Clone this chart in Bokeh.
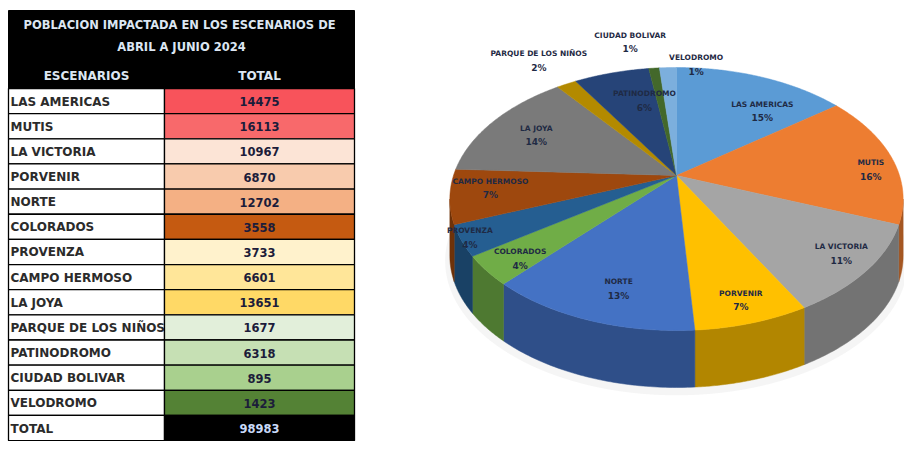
import numpy as np
from bokeh.plotting import figure
from bokeh.models import Range1d, ColumnDataSource
from bokeh.core.properties import value
from bokeh.embed import file_html
from bokeh.resources import INLINE

# ---------------- data ----------------
title_lines = ["POBLACION IMPACTADA  EN LOS ESCENARIOS DE", "ABRIL A JUNIO 2024"]
header = ["ESCENARIOS", "TOTAL"]
escenarios = ["LAS AMERICAS", "MUTIS", "LA VICTORIA", "PORVENIR", "NORTE", "COLORADOS",
              "PROVENZA", "CAMPO HERMOSO", "LA JOYA", "PARQUE DE LOS NIÑOS",
              "PATINODROMO", "CIUDAD BOLIVAR", "VELODROMO"]
totales = [14475, 16113, 10967, 6870, 12702, 3558, 3733, 6601, 13651, 1677, 6318, 895, 1423]
total_label = "TOTAL"

# ---------------- styles / layout ----------------
cell_colors = ["#f8535b", "#f8696b", "#fce4d6", "#f8cbad", "#f4b084", "#c55a11",
               "#fff2cc", "#ffe699", "#ffd966", "#e2efda", "#c6e0b4", "#a9d08e", "#548235"]
slice_colors = ["#5b9bd5", "#ed7d31", "#a5a5a5", "#ffc000", "#4472c4", "#70ad47",
                "#255e91", "#9e480e", "#7a7a7a", "#b38a00", "#264478", "#43682b", "#7cafdd"]
label_r = [0.62, 0.90, 0.88, 0.87, 0.80, 0.84, 0.93, 0.86, 0.72, 1.30, 0.74, 1.32, 1.12]
label_dx = [30, 0, 0, 0, 10, 0, -8, 8, -6, 0, 18, -18, 29]
label_dy = [0, 10, -4, 0, 2, 5, 2, -5, 0, 0, 4, 2, 8]

FONT = value("DejaVu Sans")

p = figure(width=904, height=441, output_backend="svg", toolbar_location=None,
           x_range=Range1d(0, 904), y_range=Range1d(441, 0), min_border=0)
p.axis.visible = False
p.grid.visible = False
p.outline_line_color = None
p.background_fill_color = "white"

# ---------------- table ----------------
X0, XM, X1 = 8, 164, 354
HEAD_TOP, ROW0, RH = 10, 88, 25.15

p.quad(left=[X0], right=[X1], top=[HEAD_TOP], bottom=[ROW0], fill_color="black", line_color="black")
p.text(x=[(X0 + X1) / 2] * 2, y=[24, 46], text=title_lines, text_font=FONT,
       text_font_style="bold", text_font_size="11.5px", text_color="#dce6f2",
       text_align="center", text_baseline="middle")
p.text(x=[(X0 + XM) / 2, (XM + X1) / 2], y=[75, 75], text=header, text_font=FONT,
       text_font_style="bold", text_font_size="12px", text_color="#dce6f2",
       text_align="center", text_baseline="middle")

n = len(escenarios)
grand_total = sum(totales)
row_names = escenarios + [total_label]
row_vals = [str(v) for v in totales] + [str(grand_total)]
row_fill = cell_colors + ["black"]
row_txt = ["#1c1c3a"] * n + ["#c9daf8"]
tops = [ROW0 + i * RH for i in range(n + 1)]
bots = [t + RH for t in tops]
mids = [t + RH / 2 + 0.5 for t in tops]

src = ColumnDataSource(dict(top=tops, bottom=bots, mid=mids, name=row_names,
                            val=row_vals, fill=row_fill, tc=row_txt))
p.quad(left=X0, right=XM, top="top", bottom="bottom", source=src,
       fill_color="white", line_color="black", line_width=1.3)
p.text(x=X0 + 2, y="mid", text="name", source=src, text_font=FONT, text_font_style="bold",
       text_font_size="12px", text_color="#2b2b2b", text_align="left", text_baseline="middle")
p.quad(left=XM, right=X1, top="top", bottom="bottom", source=src,
       fill_color="fill", line_color="black", line_width=1.3)
p.text(x=(XM + X1) / 2, y="mid", text="val", source=src, text_font=FONT, text_font_style="bold",
       text_font_size="11.5px", text_color="tc", text_align="center", text_baseline="middle")

# ---------------- 3D pie ----------------
PCX, PCY, PA, PB, PK, DEPTH = 676, 175, 223, 127.3, -0.1787, 57


def proj(phi_deg, r=1.0):
    ph = np.radians(phi_deg)
    u = r * np.sin(ph)
    v = -r * np.cos(ph)
    d = 1 + PK * v
    return PCX + PA * u / d, PCY + PB * v / d


def darker(hexc, f):
    h = hexc.lstrip("#")
    r, g, b = (int(h[i:i + 2], 16) for i in (0, 2, 4))
    return "#%02x%02x%02x" % (int(r * f), int(g * f), int(b * f))


vals = np.array(totales, dtype=float)
frac = vals / vals.sum()
ends = np.cumsum(frac) * 360.0
starts = np.concatenate([[0.0], ends[:-1]])

samp = np.linspace(0, 360, 3601)
sx, _ = proj(samp)
phi_r = samp[np.argmax(sx)]
phi_l = samp[np.argmin(sx)]

# soft shadow
shx, shy = proj(samp, 1.02)
p.patch(x=shx, y=shy + DEPTH + 4, fill_color="#e3e3e3", fill_alpha=0.35, line_color=None)

# sides
side_xs, side_ys, side_cols = [], [], []
for a, b, c in zip(starts, ends, slice_colors):
    lo, hi = max(a, phi_r), min(b, phi_l)
    if hi <= lo:
        continue
    ph = np.linspace(lo, hi, 60)
    ex, ey = proj(ph)
    side_xs.append(list(ex) + list(ex[::-1]))
    side_ys.append(list(ey) + list((ey + DEPTH)[::-1]))
    side_cols.append(darker(c, 0.7))
p.patches(xs=side_xs, ys=side_ys, fill_color=side_cols, line_color=side_cols, line_width=0.5)

# top faces
top_xs, top_ys = [], []
for a, b in zip(starts, ends):
    ph = np.linspace(a, b, max(4, int((b - a) * 2)))
    ex, ey = proj(ph)
    top_xs.append([PCX] + list(ex))
    top_ys.append([PCY] + list(ey))
p.patches(xs=top_xs, ys=top_ys, fill_color=slice_colors, line_color=slice_colors, line_width=0.5)

# labels
pct = [f"{round(f * 100)}%" for f in frac]
midphi = (starts + ends) / 2
lx, ly = [], []
for m, r, dx, dy in zip(midphi, label_r, label_dx, label_dy):
    x, y = proj(m, r)
    lx.append(float(x) + dx)
    ly.append(float(y) + dy)
p.text(x=lx, y=[y - 7 for y in ly], text=escenarios, text_font=FONT, text_font_style="bold",
       text_font_size="7.5px", text_color="#1f2a44", text_align="center", text_baseline="middle")
p.text(x=lx, y=[y + 7 for y in ly], text=pct, text_font=FONT, text_font_style="bold",
       text_font_size="9px", text_color="#1f2a44", text_align="center", text_baseline="middle")

open("out.html", "w").write(file_html(p, INLINE))
